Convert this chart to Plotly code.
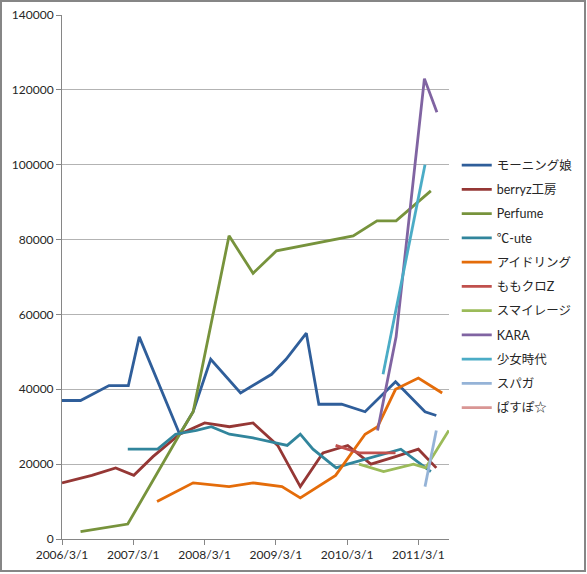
import plotly.graph_objects as go

# sales per single release
mm_dates = ["2006-03-01", "2006-06-04", "2006-10-28", "2007-02-04", "2007-04-01", "2007-10-25",
            "2008-01-02", "2008-04-01", "2008-09-01", "2009-02-07", "2009-04-22", "2009-08-04",
            "2009-10-07", "2010-02-01", "2010-06-01", "2010-11-04", "2011-04-04", "2011-06-01"]
mm_sales = [37000, 37000, 41000, 41000, 54000, 28000, 34000, 48000, 39000, 44000, 48000, 55000,
            36000, 36000, 34000, 42000, 34000, 33000]

berryz_dates = ["2006-03-01", "2006-08-01", "2006-12-01", "2007-03-04", "2007-06-10", "2007-10-25",
                "2008-03-01", "2008-07-06", "2008-11-04", "2009-03-10", "2009-07-04", "2009-10-28",
                "2010-03-04", "2010-07-01", "2010-11-04", "2011-03-01", "2011-06-01"]
berryz_sales = [15000, 17000, 19000, 17000, 22000, 28000, 31000, 30000, 31000, 25000, 14000, 23000,
                25000, 20000, 22000, 24000, 19000]

perfume_dates = ["2006-06-04", "2007-02-01", "2007-10-25", "2008-01-02", "2008-07-04", "2008-11-04",
                 "2009-03-04", "2010-04-01", "2010-08-01", "2010-11-07", "2011-05-04"]
perfume_sales = [2000, 4000, 28000, 34000, 81000, 71000, 77000, 81000, 85000, 85000, 93000]

cute_dates = ["2007-02-01", "2007-07-04", "2007-10-04", "2008-01-19", "2008-04-04", "2008-07-06",
              "2008-11-04", "2009-04-28", "2009-07-04", "2009-09-07", "2010-01-04", "2010-03-04",
              "2010-12-01", "2011-04-07", "2011-05-04"]
cute_sales = [24000, 24000, 28000, 29000, 30000, 28000, 27000, 25000, 28000, 24000, 19000, 20000,
              24000, 19000, 18000]

idoling_dates = ["2007-07-01", "2008-01-02", "2008-07-04", "2008-11-04", "2009-04-01", "2009-07-04",
                 "2010-01-01", "2010-06-01", "2010-08-04", "2010-11-04", "2011-03-01", "2011-07-01"]
idoling_sales = [10000, 15000, 14000, 15000, 14000, 11000, 17000, 28000, 30000, 40000, 43000, 39000]

momoclo_dates = ["2010-01-01", "2010-05-01", "2010-11-04"]
momoclo_sales = [25000, 23000, 23000]

smileage_dates = ["2010-05-01", "2010-09-04", "2011-02-04", "2011-04-07", "2011-08-04"]
smileage_sales = [20000, 18000, 20000, 19000, 29000]

kara_dates = ["2010-08-04", "2010-11-07", "2011-04-01", "2011-06-04"]
kara_sales = [29000, 54000, 123000, 114000]

snsd_dates = ["2010-09-01", "2011-04-04"]
snsd_sales = [44000, 100000]

spg_dates = ["2011-04-04", "2011-06-01"]
spg_sales = [14000, 29000]

passpo_dates = ["2011-06-01"]
passpo_sales = [20000]

series = [
    ("モーニング娘", mm_dates, mm_sales, "#2F5E9A"),
    ("berryz工房", berryz_dates, berryz_sales, "#953735"),
    ("Perfume", perfume_dates, perfume_sales, "#77933C"),
    ("℃-ute", cute_dates, cute_sales, "#31859C"),
    ("アイドリング", idoling_dates, idoling_sales, "#E46C0A"),
    ("ももクロZ", momoclo_dates, momoclo_sales, "#C0504D"),
    ("スマイレージ", smileage_dates, smileage_sales, "#9BBB59"),
    ("KARA", kara_dates, kara_sales, "#8064A2"),
    ("少女時代", snsd_dates, snsd_sales, "#4BACC6"),
    ("スパガ", spg_dates, spg_sales, "#95B3D7"),
    ("ぱすぽ☆", passpo_dates, passpo_sales, "#D99694"),
]

fig = go.Figure()
for i, (name, xs, ys, col) in enumerate(series):
    fig.add_trace(go.Scatter(x=xs, y=ys, name=name, mode="lines", legendgroup=str(i),
                             line=dict(color=col, width=2.8)))

font = "Lato, 'Noto Sans CJK JP', sans-serif"

fig.update_layout(
    width=587, height=574,
    margin=dict(l=62, r=138, t=15, b=35, autoexpand=False),
    paper_bgcolor="white", plot_bgcolor="white",
    font=dict(family=font, size=12, color="#262626"),
    legend=dict(x=1.02, y=0.482, yanchor="middle", xanchor="left",
                tracegroupgap=5, font=dict(size=12.5), itemwidth=30),
    showlegend=True,
)

fig.update_xaxes(type="date", range=["2006-03-01", "2011-08-05"], automargin=False,
                 tick0="2006-03-01", dtick="M12", tickformat="%Y/%-m/%-d",
                 showgrid=False, showline=True, linecolor="#868686", linewidth=1,
                 ticks="outside", ticklen=5, tickcolor="#868686")
fig.update_yaxes(range=[0, 140000], dtick=20000, tickformat="d", automargin=False,
                 showgrid=True, gridcolor="#B3B3B3", gridwidth=1,
                 showline=True, linecolor="#868686", linewidth=1,
                 ticks="outside", ticklen=5, tickcolor="#868686", zeroline=False)

# chart area border
fig.add_shape(type="rect", xref="paper", yref="paper",
              x0=(1 - 62) / 387, x1=(585 - 62) / 387,
              y0=(539 - 571) / 524, y1=(539 - 1) / 524,
              line=dict(color="#868686", width=2), fillcolor="rgba(0,0,0,0)")

fig.write_html("out.html", config={"displayModeBar": False},
               post_script="document.body.style.margin='0px';")
